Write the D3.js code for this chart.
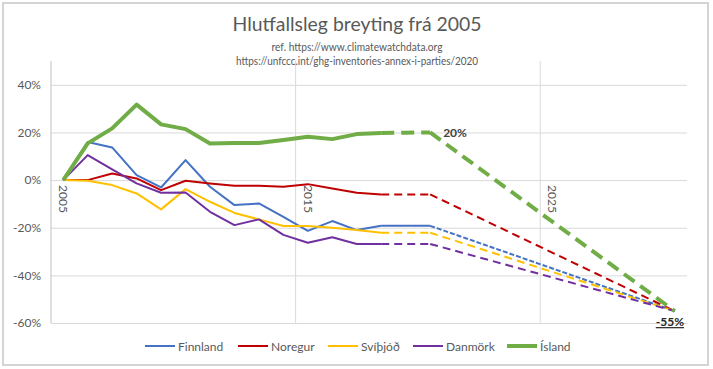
<!DOCTYPE html>
<html><head><meta charset="utf-8">
<script src="https://cdn.jsdelivr.net/npm/d3@7"></script>
<style>body{margin:0;background:#fff;} svg{display:block;}</style>
</head><body>
<script>
const years = [2005,2006,2007,2008,2009,2010,2011,2012,2013,2014,2015,2016,2017,2018];
const allYears = d3.range(2005, 2031);
const tickYears = [2005, 2015, 2025];
const yTicks = [-60,-40,-20,0,20,40];
const names = ["Finnland","Noregur","Svíþjóð","Danmörk","Ísland"];
const finnland = [0,16,13.7,2.1,-3.1,8.4,-2.8,-10.5,-9.8,-15.4,-21.3,-17.2,-21,-19.2];
const noregur  = [0,0,2.8,0.7,-4.2,-0.3,-1.4,-2.4,-2.4,-2.8,-1.7,-3.5,-5.3,-6];
const svithjod = [0,-0.3,-2.1,-5.6,-12.3,-3.8,-9.1,-13.8,-16.5,-19.3,-19.3,-20,-21,-22.1];
const danmork  = [0,10.5,4.5,-1.4,-5.3,-5.2,-13.3,-18.9,-16.5,-23,-26.3,-24,-26.8,-26.8];
const island   = [0,15.4,21.7,31.7,23.4,21.4,15.4,15.6,15.6,16.8,18.2,17.2,19.3,19.8];
const projYears = [2018, 2020, 2030];
const target2020Island = 20;
const target2030 = -55;

const colors = ["#4472C4","#C00000","#FFC000","#7030A0","#70AD47"];
const widths = [2,2,2,2,4];
const flatDash = [null,"8,5","8,5","8,5","13,7"];
const slopeDash = ["5,2","8,5","8,5","8,5","13,7"];

const W=713,H=369;
const svg = d3.select("body").append("svg").attr("width",W).attr("height",H);
const font = "Lato, 'Open Sans', sans-serif";
const txt = "#595959";

svg.append("rect").attr("x",3).attr("y",3).attr("width",705).attr("height",362)
  .attr("fill","#fff").attr("stroke","#D4D4D4").attr("stroke-width",2);

const L=51,R=687,T=61,B=323;
const x = d3.scaleBand().domain(allYears).range([L,R]);
const xc = d => x(d)+x.bandwidth()/2;
const y = d3.scaleLinear().domain([-60,50]).range([B,T]);

// horizontal gridlines
const gy = svg.append("g").attr("transform",`translate(${L},0)`)
  .call(d3.axisLeft(y).tickValues(yTicks).tickSize(-(R-L)).tickPadding(10).tickFormat(d=>d+"%"));
gy.select(".domain").remove();
gy.selectAll(".tick line").attr("stroke","#D9D9D9").attr("stroke-width",1);
gy.selectAll(".tick text").attr("fill",txt).style("font-family",font).style("font-size","12px");

// vertical gridlines at tick years (band boundary)
svg.selectAll("line.vg").data(tickYears.slice(1)).enter().append("line")
  .attr("x1",d=>x(d)).attr("x2",d=>x(d)).attr("y1",T).attr("y2",B)
  .attr("stroke","#D9D9D9");
svg.append("line").attr("x1",L).attr("x2",L).attr("y1",T).attr("y2",B).attr("stroke","#BFBFBF");

// x labels rotated
svg.selectAll("text.xl").data(tickYears).enter().append("text")
  .attr("transform",d=>`translate(${xc(d)-4},${y(0)+5}) rotate(90)`)
  .attr("fill",txt).style("font-family",font).style("font-size","12px").text(d=>d);

const series = [finnland,noregur,svithjod,danmork,island];
const line = d3.line().x(d=>xc(d[0])).y(d=>y(d[1]));
series.forEach((s,i)=>{
  const last = s[s.length-1];
  const flatVal = i===4 ? target2020Island : last;
  const flat = [[projYears[0],last],[2019,(last+flatVal)/2],[projYears[1],flatVal]];
  const slope = [[projYears[1],flatVal],[projYears[2],target2030]];
  const fp = svg.append("path").datum(flat).attr("d",line).attr("fill","none")
    .attr("stroke",colors[i]).attr("stroke-width",widths[i]);
  if(flatDash[i]) fp.attr("stroke-dasharray",flatDash[i]);
  svg.append("path").datum(slope).attr("d",line).attr("fill","none")
    .attr("stroke",colors[i]).attr("stroke-width",widths[i]).attr("stroke-dasharray",slopeDash[i]);
});
series.forEach((s,i)=>{
  svg.append("path").datum(years.map((yr,j)=>[yr,s[j]])).attr("d",line).attr("fill","none")
    .attr("stroke",colors[i]).attr("stroke-width",widths[i]).attr("stroke-linejoin","round");
});

// annotations
svg.append("text").attr("x",xc(2020)+13).attr("y",y(target2020Island)+5)
  .attr("fill","#404040").style("font-family",font).style("font-size","12px").style("font-weight","bold").text(target2020Island+"%");
svg.append("text").attr("x",xc(2030)-19).attr("y",y(target2030)+15)
  .attr("fill","#262626").style("font-family",font).style("font-size","12px").style("font-weight","bold")
  .style("text-decoration","underline").text(target2030+"%");

// titles
svg.append("text").attr("x",357).attr("y",31).attr("text-anchor","middle").attr("fill",txt)
  .style("font-family",font).style("font-size","20px").attr("textLength",249).attr("lengthAdjust","spacingAndGlyphs")
  .text("Hlutfallsleg breyting frá 2005");
svg.append("text").attr("x",357).attr("y",51).attr("text-anchor","middle").attr("fill",txt)
  .style("font-family",font).style("font-size","11px").attr("textLength",171).attr("lengthAdjust","spacingAndGlyphs")
  .text("ref. https://www.climatewatchdata.org");
svg.append("text").attr("x",357).attr("y",65).attr("text-anchor","middle").attr("fill",txt)
  .style("font-family",font).style("font-size","11px").attr("textLength",242).attr("lengthAdjust","spacingAndGlyphs")
  .text("https://unfccc.int/ghg-inventories-annex-i-parties/2020");

// legend
const legX = [145,238,328,413,507];
names.forEach((n,i)=>{
  const g = svg.append("g").attr("transform",`translate(${legX[i]},346)`);
  g.append("line").attr("x1",0).attr("x2",30).attr("stroke",colors[i]).attr("stroke-width",widths[i]);
  g.append("text").attr("x",33).attr("y",4.5).attr("fill",txt)
    .style("font-family",font).style("font-size","12px").text(n);
});
</script>
</body></html>
